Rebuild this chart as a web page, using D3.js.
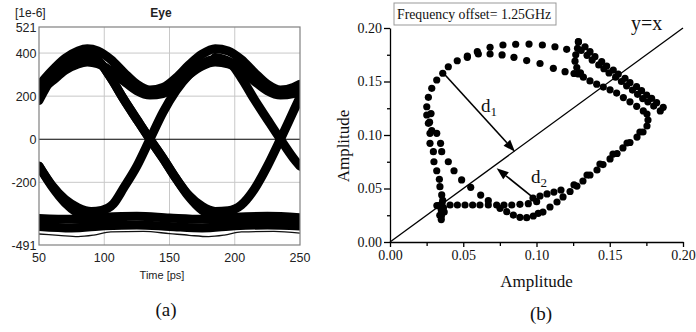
<!DOCTYPE html>
<html>
<head>
<meta charset="utf-8">
<script src="https://cdn.jsdelivr.net/npm/d3@7"></script>
<style>
  html, body { margin: 0; padding: 0; background: #fff; }
  svg { display: block; }
</style>
</head>
<body>
<svg id="fig" width="696" height="332"></svg>
<script>
// ================= Panel (a): eye diagram (time in ps, amplitude in 1e-6) =================
const eyeXTicks = [50, 100, 150, 200, 250];
const eyeYTicks = [521, 400, 200, 0, -200, -491];
const eyeXGrid = [100, 150, 200];
const eyeYGrid = [400, 200, -200];

// sustained "1" traces
const eyeUpperHigh = [[50,250],[60,318],[70,375],[80,410],[87,420],[95,410],[105,370],[115,310],[125,255],[135,228],[145,240],[155,285],[165,345],[175,395],[185,420],[195,410],[205,370],[215,310],[225,255],[235,228],[245,240],[250,255]];
const eyeUpperLow  = [[50,222],[60,270],[70,320],[80,350],[87,358],[95,350],[105,318],[115,270],[125,225],[135,205],[145,212],[155,248],[165,300],[175,340],[185,358],[195,350],[205,318],[215,270],[225,225],[235,205],[245,212],[250,225]];
// transitions
const eyeRiseLeft  = [[50,180],[60,285],[70,345],[80,378],[88,385],[95,375]];
const eyeFallLeft  = [[50,-125],[60,-220],[70,-295],[80,-345],[90,-375],[100,-388],[115,-392]];
const eyeCupMid    = [[50,-125],[60,-215],[70,-280],[80,-318],[90,-335],[98,-330],[107,-300],[115,-225],[125,-125],[135,0],[145,125],[155,225],[165,300],[175,350],[185,370],[195,362],[205,330]];
const eyeFallMid   = [[85,385],[95,365],[105,285],[115,185],[125,92],[135,0],[145,-88],[155,-182],[165,-268],[175,-330],[185,-362],[195,-380],[210,-388],[230,-390],[250,-390]];
const eyeFallCup   = [[85,385],[95,365],[105,285],[115,185],[125,92],[135,0],[145,-88],[155,-182],[165,-262],[175,-312],[185,-335],[195,-332],[205,-305],[215,-232],[225,-125],[235,0],[245,130],[250,195]];
const eyeFallRight = [[185,380],[195,362],[205,285],[215,185],[225,92],[235,0],[245,-88],[250,-125]];
// sustained "0" traces
const eyeRailTop    = [[50,-368],[75,-372],[100,-362],[125,-358],[150,-366],[175,-372],[200,-362],[225,-358],[250,-364]];
const eyeRailBottom = [[50,-405],[75,-412],[100,-402],[125,-398],[150,-405],[175,-412],[200,-402],[225,-398],[250,-403]];
const eyeRailEdge   = [[50,-440],[65,-446],[80,-452],[92,-445],[105,-430],[130,-428],[150,-438],[165,-446],[180,-452],[192,-445],[205,-430],[230,-428],[250,-436]];

// ================= Panel (b): constellation trajectory (Amplitude vs Amplitude) =================
const ampTicks = [0, 0.05, 0.10, 0.15, 0.20];
const ampMinorTicks = [0.025, 0.075, 0.125, 0.175];
const legendText = "Frequency offset= 1.25GHz";

const clusterPts = [[0.035,0.021],[0.035,0.024],[0.0355,0.027],[0.035,0.030],[0.0345,0.033],[0.0355,0.036],[0.036,0.039],[0.0335,0.034],[0.0365,0.032],[0.037,0.028],[0.034,0.025],[0.032,0.034]];
const bottomRow = [[0.041,0.0346],[0.046,0.0346],[0.0512,0.0346],[0.0564,0.0346],[0.0614,0.0346],[0.0671,0.0346],[0.0728,0.0346],[0.0778,0.0346],[0.0831,0.0346],[0.0887,0.0352],[0.0944,0.0358],[0.1001,0.0377]];
const lowerCup = [[0.0751,0.0315],[0.0797,0.0283],[0.0842,0.0252],[0.0887,0.0231],[0.0933,0.0227],[0.0978,0.0243],[0.1012,0.0268]];
const upperTrack = [[0.0976,0.0411],[0.1024,0.043],[0.1072,0.0449],[0.1119,0.0467],[0.1167,0.0486]];
const risingEdge = [[0.1044,0.028],[0.1092,0.0327],[0.114,0.0374],[0.1181,0.0421],[0.1229,0.0472],[0.1276,0.0523],[0.1317,0.057],[0.1365,0.0626],[0.1413,0.0673],[0.1454,0.0724],[0.1502,0.0776],[0.155,0.0827],[0.159,0.0879],[0.1638,0.093],[0.1686,0.0981],[0.1727,0.1028],[0.1754,0.1084],[0.1761,0.114],[0.1754,0.1196]];
const risingEdge2 = [[0.1256,0.0533],[0.1345,0.0626],[0.1433,0.0729],[0.1522,0.0822],[0.1618,0.0925],[0.1706,0.1028]];
const innerDiag = [[0.1729,0.1225],[0.1684,0.1268],[0.1638,0.131],[0.1593,0.135],[0.1547,0.1392],[0.1502,0.1422],[0.1456,0.1448],[0.1411,0.1475],[0.1365,0.1505],[0.132,0.154],[0.1286,0.157]];
const hookPts = [[0.1286,0.187],[0.128,0.181],[0.1268,0.175],[0.1263,0.169],[0.1275,0.163],[0.13,0.158]];
const outerDiag = [[0.1286,0.1872],[0.1331,0.1825],[0.1365,0.1779],[0.1399,0.1732],[0.1445,0.1685],[0.1479,0.1645],[0.1524,0.1607],[0.1558,0.157],[0.1604,0.153],[0.1638,0.1489],[0.1683,0.1452],[0.1717,0.1414],[0.1752,0.1374],[0.1786,0.1343],[0.182,0.1302],[0.1865,0.1259]];
const outerDiag2 = [[0.1305,0.179],[0.1345,0.1745],[0.138,0.170],[0.1425,0.1655],[0.146,0.162],[0.1495,0.158],[0.154,0.154],[0.158,0.150],[0.1615,0.146],[0.1655,0.142],[0.169,0.138],[0.1725,0.134],[0.176,0.131],[0.18,0.127],[0.1845,0.1225]];
const outerArc = [[0.1206,0.1801],[0.1126,0.1825],[0.104,0.1841],[0.0949,0.185],[0.0858,0.1848],[0.0771,0.1841],[0.0683,0.182],[0.0596,0.1779],[0.0528,0.1738],[0.0459,0.1694],[0.0398,0.1638],[0.036,0.1577],[0.0319,0.1514],[0.0285,0.1436],[0.0262,0.1352],[0.0251,0.1264],[0.0251,0.1187],[0.0262,0.1109],[0.0273,0.1016]];
const innerArc = [[0.0528,0.1726],[0.0603,0.1757],[0.0683,0.1757],[0.0765,0.1748],[0.0846,0.1726],[0.0933,0.1696],[0.1024,0.1668],[0.1115,0.1623],[0.1195,0.1592],[0.1256,0.1575]];
const leftColumn = [[0.0273,0.0922],[0.0296,0.0844],[0.030,0.075],[0.0319,0.0666],[0.0337,0.0586],[0.0341,0.0517],[0.0353,0.044],[0.0285,0.104],[0.027,0.112],[0.028,0.120]];
const innerLeft = [[0.0319,0.1016],[0.0345,0.0922],[0.0353,0.0844],[0.0398,0.075],[0.0437,0.0666],[0.0489,0.058],[0.0551,0.0511],[0.0619,0.0439],[0.0671,0.0386]];

const diagLine = [[0, 0], [0.2, 0.2]];
const arrowD1 = [[0.0364, 0.158], [0.0853, 0.0844]];
const arrowD2 = [[0.1001, 0.039], [0.0728, 0.0689]];

// ---------------------------------------------------------------------------------------------
const svg = d3.select('#fig');
const SANS = "'Liberation Sans', Arial, sans-serif";
const SERIF = "'Liberation Serif', 'Times New Roman', serif";

// ---- Panel (a)
const ex = d3.scaleLinear().domain([50, 250]).range([39, 300]);
const ey = d3.scaleLinear().domain([-491, 521]).range([245, 27]);
const ga = svg.append('g');

ga.append('clipPath').attr('id', 'eyeClip')
  .append('rect').attr('x', ex(50)).attr('y', ey(521))
  .attr('width', ex(250) - ex(50)).attr('height', ey(-491) - ey(521));

ga.selectAll('.gx').data(eyeXGrid).join('line')
  .attr('x1', d => ex(d)).attr('x2', d => ex(d))
  .attr('y1', ey(521)).attr('y2', ey(-491))
  .attr('stroke', '#c8c8c8').attr('stroke-width', 1);
ga.selectAll('.gy').data(eyeYGrid).join('line')
  .attr('x1', ex(50)).attr('x2', ex(250))
  .attr('y1', d => ey(d)).attr('y2', d => ey(d))
  .attr('stroke', '#c8c8c8').attr('stroke-width', 1);

const eyeLine = d3.line().x(d => ex(d[0])).y(d => ey(d[1])).curve(d3.curveMonotoneX);
const traces = ga.append('g').attr('clip-path', 'url(#eyeClip)');
const thick = [eyeUpperHigh, eyeUpperLow, eyeRiseLeft, eyeFallLeft, eyeCupMid, eyeFallMid,
               eyeFallCup, eyeFallRight, eyeRailTop, eyeRailBottom];
traces.selectAll('.tr').data(thick).join('path')
  .attr('d', eyeLine).attr('fill', 'none')
  .attr('stroke', '#000').attr('stroke-width', 9)
  .attr('stroke-linecap', 'round').attr('stroke-linejoin', 'round');
traces.append('path').datum(eyeRailEdge)
  .attr('d', eyeLine).attr('fill', 'none')
  .attr('stroke', '#111').attr('stroke-width', 1.3);

ga.append('line')
  .attr('x1', ex(50)).attr('x2', ex(250)).attr('y1', ey(0)).attr('y2', ey(0))
  .attr('stroke', '#000').attr('stroke-width', 1.2);
ga.append('rect')
  .attr('x', ex(50)).attr('y', ey(521))
  .attr('width', ex(250) - ex(50)).attr('height', ey(-491) - ey(521))
  .attr('fill', 'none').attr('stroke', '#808080').attr('stroke-width', 1.2);

ga.selectAll('.ylab').data(eyeYTicks).join('text')
  .attr('x', 36.5).attr('y', d => ey(d)).attr('dy', '0.36em')
  .attr('text-anchor', 'end')
  .style('font-family', SANS).style('font-size', '12.5px').style('fill', '#222')
  .text(d => d);
ga.selectAll('.xlab').data(eyeXTicks).join('text')
  .attr('x', d => ex(d)).attr('y', 262)
  .attr('text-anchor', 'middle')
  .style('font-family', SANS).style('font-size', '12.5px').style('fill', '#222')
  .text(d => d);
ga.append('text').attr('x', 15).attr('y', 17)
  .style('font-family', SANS).style('font-size', '12px').style('fill', '#222')
  .text('[1e-6]');
ga.append('text').attr('x', 161).attr('y', 17).attr('text-anchor', 'middle')
  .style('font-family', SANS).style('font-size', '12px').style('font-weight', 'bold').style('fill', '#222')
  .text('Eye');
ga.append('text').attr('x', 162).attr('y', 279).attr('text-anchor', 'middle')
  .style('font-family', SANS).style('font-size', '11px').style('fill', '#222')
  .text('Time [ps]');
svg.append('text').attr('x', 166).attr('y', 316).attr('text-anchor', 'middle')
  .style('font-family', SERIF).style('font-size', '19px').style('fill', '#111')
  .text('(a)');

// ---- Panel (b)
const ax = d3.scaleLinear().domain([0, 0.2]).range([390, 683]);
const ay = d3.scaleLinear().domain([0, 0.2]).range([242, 28]);
const gb = svg.append('g');

const fmt = d3.format('.2f');
const xAxis = gb.append('g').attr('transform', `translate(0,${ay(0)})`)
  .call(d3.axisBottom(ax).tickValues(ampTicks).tickFormat(fmt).tickSize(5).tickSizeOuter(0).tickPadding(3));
const xMinor = gb.append('g').attr('transform', `translate(0,${ay(0)})`)
  .call(d3.axisBottom(ax).tickValues(ampMinorTicks).tickFormat('').tickSize(4).tickSizeOuter(0));
const yAxis = gb.append('g').attr('transform', `translate(${ax(0)},0)`)
  .call(d3.axisLeft(ay).tickValues(ampTicks).tickFormat(fmt).tickSize(6).tickSizeOuter(0).tickPadding(2));
const yMinor = gb.append('g').attr('transform', `translate(${ax(0)},0)`)
  .call(d3.axisLeft(ay).tickValues(ampMinorTicks).tickFormat('').tickSize(3).tickSizeOuter(0));
[xAxis, xMinor, yAxis, yMinor].forEach(a => {
  a.selectAll('path, line').attr('stroke', '#000').attr('stroke-width', 1.3);
  a.selectAll('text').style('font-family', SERIF).style('font-size', '14px').style('fill', '#111');
});
xMinor.select('.domain').remove();
yMinor.select('.domain').remove();

gb.append('text')
  .attr('x', (ax(0) + ax(0.2)) / 2).attr('y', 287).attr('text-anchor', 'middle')
  .style('font-family', SERIF).style('font-size', '17px').style('fill', '#111')
  .text('Amplitude');
gb.append('text')
  .attr('transform', `translate(349,146) rotate(-90)`).attr('text-anchor', 'middle')
  .style('font-family', SERIF).style('font-size', '17px').style('fill', '#111')
  .text('Amplitude');

// legend box
gb.append('rect').attr('x', 394).attr('y', 3).attr('width', 162).attr('height', 22)
  .attr('fill', '#fff').attr('stroke', '#999').attr('stroke-width', 1);
gb.append('text').attr('x', 397).attr('y', 18.5)
  .attr('textLength', 154).attr('lengthAdjust', 'spacingAndGlyphs')
  .style('font-family', SERIF).style('font-size', '14px').style('fill', '#111')
  .text(legendText);

// y = x line
const lineGen = d3.line().x(d => ax(d[0])).y(d => ay(d[1]));
gb.append('path').datum(diagLine).attr('d', lineGen)
  .attr('stroke', '#000').attr('stroke-width', 1.3).attr('fill', 'none');
gb.append('text').attr('x', 631).attr('y', 30)
  .style('font-family', SERIF).style('font-size', '20px').style('fill', '#111')
  .text('y=x');

// dots
const allDots = [].concat(clusterPts, bottomRow, lowerCup, upperTrack, risingEdge, risingEdge2,
  innerDiag, hookPts, outerDiag, outerDiag2, outerArc, innerArc, leftColumn, innerLeft);
gb.selectAll('.dot').data(allDots).join('circle')
  .attr('cx', d => ax(d[0])).attr('cy', d => ay(d[1])).attr('r', 3.6)
  .attr('fill', '#000');

// arrows
function arrow(pts) {
  const x1 = ax(pts[0][0]), y1 = ay(pts[0][1]);
  const x2 = ax(pts[1][0]), y2 = ay(pts[1][1]);
  const ang = Math.atan2(y2 - y1, x2 - x1);
  const L = 12, W = 4.5;
  const bx = x2 - L * Math.cos(ang), by = y2 - L * Math.sin(ang);
  gb.append('line').attr('x1', x1).attr('y1', y1).attr('x2', bx).attr('y2', by)
    .attr('stroke', '#000').attr('stroke-width', 1.6);
  const p = [[x2, y2],
    [bx + W * Math.sin(ang), by - W * Math.cos(ang)],
    [bx - W * Math.sin(ang), by + W * Math.cos(ang)]];
  gb.append('path').attr('d', 'M' + p.map(q => q.join(',')).join('L') + 'Z').attr('fill', '#000');
}
arrow(arrowD1);
arrow(arrowD2);

function dLabel(x, y, sub) {
  const t = gb.append('text').attr('x', x).attr('y', y)
    .style('font-family', SERIF).style('font-size', '19px').style('fill', '#111');
  t.append('tspan').text('d');
  t.append('tspan').attr('dy', 4).style('font-size', '13px').text(sub);
}
dLabel(481, 112, '1');
dLabel(531, 183, '2');

svg.append('text').attr('x', 541).attr('y', 320).attr('text-anchor', 'middle')
  .style('font-family', SERIF).style('font-size', '19px').style('fill', '#111')
  .text('(b)');
</script>
</body>
</html>
